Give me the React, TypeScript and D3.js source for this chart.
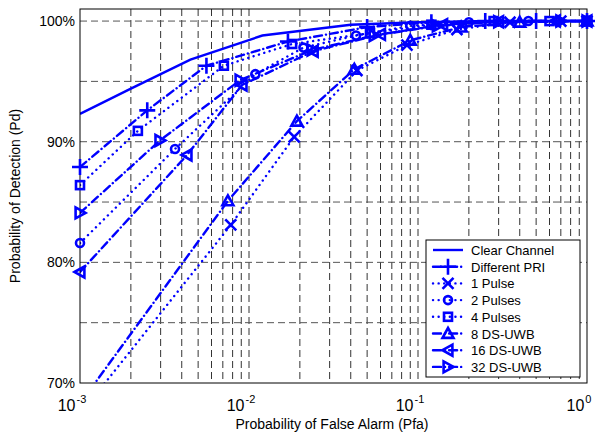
import React from "react";
import * as d3 from "d3";

// Courbes ROC : Pfa (axe log) et Pd (%)
const clearPfa = [1e-3, 2e-3, 4.5e-3, 1.2e-2, 4e-2, 0.1, 0.3, 1];
const clearPd = [92.3, 94.4, 96.8, 98.8, 99.7, 99.9, 100, 100];

const priPfa = [1e-3, 2.5e-3, 5.6e-3, 1.7e-2, 5e-2, 0.12, 0.25, 0.5, 1];
const priPd = [87.9, 92.6, 96.3, 98.3, 99.5, 99.9, 100, 100, 100];

const pulse1Pfa = [1e-3, 7.8e-3, 1.85e-2, 4.35e-2, 8.6e-2, 0.17, 0.35, 0.7, 1];
const pulse1Pd = [67.4, 83.1, 90.4, 95.9, 98.0, 99.3, 99.9, 100, 100];

const pulse2Pfa = [1e-3, 3.65e-3, 1.09e-2, 2.1e-2, 4.3e-2, 0.09, 0.2, 0.45, 1];
const pulse2Pd = [81.6, 89.4, 95.6, 97.8, 98.8, 99.6, 99.9, 100, 100];

const pulse4Pfa = [1e-3, 2.2e-3, 7.1e-3, 1.8e-2, 5.2e-2, 0.12, 0.28, 0.6, 1];
const pulse4Pd = [86.4, 90.9, 96.3, 98.1, 99.0, 99.7, 100, 100, 100];

const ds8Pfa = [1e-3, 7.5e-3, 1.92e-2, 4.2e-2, 9e-2, 0.18, 0.4, 1];
const ds8Pd = [68.3, 85.1, 91.7, 96.0, 98.4, 99.5, 99.9, 100];

const ds16Pfa = [1e-3, 4.3e-3, 9.1e-3, 2.4e-2, 6e-2, 0.14, 0.3, 0.65, 1];
const ds16Pd = [79.2, 88.9, 94.7, 97.5, 98.9, 99.7, 99.95, 100, 100];

const ds32Pfa = [1e-3, 2.97e-3, 8.85e-3, 2.36e-2, 5.5e-2, 0.13, 0.3, 0.7, 1];
const ds32Pd = [84.1, 90.1, 95.1, 97.6, 98.8, 99.6, 99.95, 100, 100];

const yTickLabels = ["70%", "80%", "90%", "100%"];
const yTicks = [70, 80, 90, 100];
const yGrid = [75, 80, 85, 90, 95, 100];
const xDecades = [-3, -2, -1, 0];

const BLUE = "#0000ff";
const DOTTED = "0.1,5.5";
const DASHDOT = "8,4,0.1,4";

type Series = {
  name: string;
  pfa: number[];
  pd: number[];
  dash: string | null;
  marker: string | null;
};

const series: Series[] = [
  { name: "Clear Channel", pfa: clearPfa, pd: clearPd, dash: null, marker: null },
  { name: "Different PRI", pfa: priPfa, pd: priPd, dash: DASHDOT, marker: "plus" },
  { name: "1 Pulse", pfa: pulse1Pfa, pd: pulse1Pd, dash: DOTTED, marker: "x" },
  { name: "2 Pulses", pfa: pulse2Pfa, pd: pulse2Pd, dash: DOTTED, marker: "circle" },
  { name: "4 Pulses", pfa: pulse4Pfa, pd: pulse4Pd, dash: DOTTED, marker: "square" },
  { name: "8 DS-UWB", pfa: ds8Pfa, pd: ds8Pd, dash: DASHDOT, marker: "up" },
  { name: "16 DS-UWB", pfa: ds16Pfa, pd: ds16Pd, dash: DASHDOT, marker: "left" },
  { name: "32 DS-UWB", pfa: ds32Pfa, pd: ds32Pd, dash: DASHDOT, marker: "right" },
];

const W = 601;
const H = 434;
const left = 80;
const right = 587;
const top = 9;
const bottom = 383;

const Marker = ({ kind, x, y }: { kind: string; x: number; y: number }) => {
  const s = { stroke: BLUE, strokeWidth: 2.6, fill: "none" };
  if (kind === "plus")
    return <path d={`M${x - 8},${y}H${x + 8}M${x},${y - 8}V${y + 8}`} {...s} />;
  if (kind === "x")
    return (
      <path
        d={`M${x - 5.5},${y - 5.5}L${x + 5.5},${y + 5.5}M${x - 5.5},${y + 5.5}L${x + 5.5},${y - 5.5}`}
        {...s}
      />
    );
  if (kind === "circle") return <circle cx={x} cy={y} r={4} {...s} />;
  if (kind === "square") return <rect x={x - 4} y={y - 4} width={8} height={8} {...s} />;
  const r = 5.5;
  let pts: [number, number][] = [];
  if (kind === "up") pts = [[x, y - r], [x + r, y + r * 0.8], [x - r, y + r * 0.8]];
  if (kind === "left") pts = [[x - r, y], [x + r * 0.8, y - r], [x + r * 0.8, y + r]];
  if (kind === "right") pts = [[x + r, y], [x - r * 0.8, y - r], [x - r * 0.8, y + r]];
  return <polygon points={pts.map((p) => p.join(",")).join(" ")} {...s} />;
};

export default function App() {
  const xScale = d3.scaleLog().domain([1e-3, 1]).range([left, right]);
  const yScale = d3.scaleLinear().domain([70, 101]).range([bottom, top]);

  const line = d3
    .line<[number, number]>()
    .x((d) => xScale(d[0]))
    .y((d) => yScale(d[1]));

  // toutes les graduations mineures (2..9 par décade)
  const minor: number[] = [];
  for (let e = -3; e < 0; e++) {
    for (let k = 2; k <= 9; k++) minor.push(k * Math.pow(10, e));
  }

  const font = "Liberation Sans, Arial, Helvetica, sans-serif";
  const legX = 426;
  const legY = 240;
  const legStep = 16.7;

  return (
    <svg
      width={W}
      height={H}
      style={{ position: "absolute", left: 0, top: 0, background: "#fff" }}
      fontFamily={font}
    >
      <defs>
        <clipPath id="plot">
          <rect x={left} y={top} width={right - left} height={bottom - top} />
        </clipPath>
      </defs>
      <rect width={W} height={H} fill="#fff" />

      {/* grille */}
      <g stroke="#333" strokeWidth={1} strokeDasharray="7,4">
        {minor.map((v, i) => (
          <line key={"vx" + i} x1={xScale(v)} x2={xScale(v)} y1={top} y2={bottom} />
        ))}
        {xDecades.slice(1, 3).map((e) => (
          <line
            key={"vd" + e}
            x1={xScale(Math.pow(10, e))}
            x2={xScale(Math.pow(10, e))}
            y1={top}
            y2={bottom}
          />
        ))}
        {yGrid.map((v) => (
          <line key={"hy" + v} x1={left} x2={right} y1={yScale(v)} y2={yScale(v)} stroke="#555" />
        ))}
      </g>

      {/* courbes */}
      <g clipPath="url(#plot)">
        {series.map((s) => {
          const pts = s.pfa.map((p, i) => [p, s.pd[i]] as [number, number]);
          return (
            <path
              key={s.name}
              d={line(pts) || ""}
              fill="none"
              stroke={BLUE}
              strokeWidth={2.4}
              strokeLinecap={s.dash ? "round" : "butt"}
              strokeDasharray={s.dash || undefined}
            />
          );
        })}
      </g>

      {/* cadre */}
      <rect
        x={left}
        y={top}
        width={right - left}
        height={bottom - top}
        fill="none"
        stroke="#000"
        strokeWidth={1}
      />

      {/* marqueurs (non découpés, seulement ceux dans le domaine) */}
      {series.map((s) =>
        s.marker
          ? s.pfa.map((p, i) =>
              s.pd[i] >= 70 ? (
                <Marker
                  key={s.name + i}
                  kind={s.marker as string}
                  x={xScale(p)}
                  y={yScale(s.pd[i])}
                />
              ) : null
            )
          : null
      )}

      {/* graduations Y */}
      {yTicks.map((v, i) => (
        <text key={v} x={left - 5} y={yScale(v) + 5} textAnchor="end" fontSize={14}>
          {yTickLabels[i]}
        </text>
      ))}

      {/* graduations X */}
      {xDecades.map((e) => (
        <text key={e} x={xScale(Math.pow(10, e)) - 8} y={411} textAnchor="middle" fontSize={16}>
          10
          <tspan dx={1} dy={-8} fontSize={11}>
            {e}
          </tspan>
        </text>
      ))}

      <text x={332} y={429} textAnchor="middle" fontSize={14}>
        Probability of False Alarm (Pfa)
      </text>
      <text
        transform={`translate(20,${(top + bottom) / 2}) rotate(-90)`}
        textAnchor="middle"
        fontSize={14}
      >
        Probability of Detection (Pd)
      </text>

      {/* légende */}
      <rect x={legX} y={legY} width={154} height={137} fill="#fff" stroke="#000" strokeWidth={1} />
      {series.map((s, i) => {
        const y = legY + 10 + i * legStep;
        return (
          <g key={"leg" + s.name}>
            <line
              x1={legX + 7}
              x2={legX + 37}
              y1={y}
              y2={y}
              stroke={BLUE}
              strokeWidth={2.4}
              strokeLinecap={s.dash ? "round" : "butt"}
              strokeDasharray={s.dash || undefined}
            />
            {s.marker && <Marker kind={s.marker} x={legX + 22} y={y} />}
            <text x={legX + 45} y={y + 5} fontSize={13}>
              {s.name}
            </text>
          </g>
        );
      })}
    </svg>
  );
}
